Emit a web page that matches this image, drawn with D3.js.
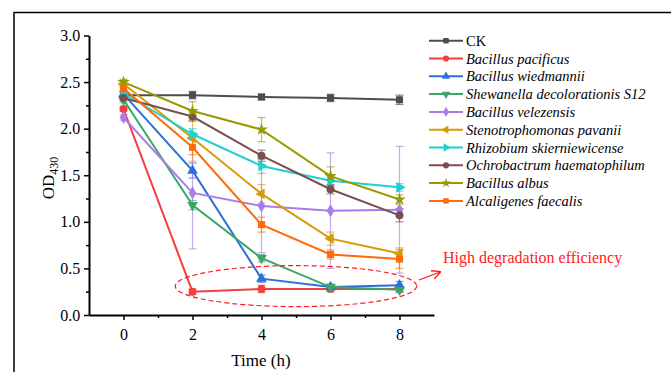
<!DOCTYPE html>
<html>
<head>
<meta charset="utf-8">
<script src="https://cdn.jsdelivr.net/npm/d3@7"></script>
<style>
  body { margin: 0; background: #fff; }
  svg { display: block; font-family: "Liberation Serif", "Times New Roman", serif; }
  svg text { font-family: "Liberation Serif", "Times New Roman", serif; }
</style>
</head>
<body>
<svg width="671" height="372"></svg>
<script>
var times = [0, 2, 4, 6, 8];
var names = ["CK", "Bacillus pacificus", "Bacillus wiedmannii", "Shewanella decolorationis S12",
  "Bacillus velezensis", "Stenotrophomonas pavanii", "Rhizobium skierniewicense",
  "Ochrobactrum haematophilum", "Bacillus albus", "Alcaligenes faecalis"];
var colors = ["#4d4d4d", "#f23f3f", "#2a6fdb", "#3aa864", "#a87de8", "#d59b0a",
  "#1fd0d0", "#7a4f4f", "#999900", "#ff6a0a"];
var shapes = ["square", "circle", "triangle", "triangleDown", "diamond", "triangleLeft",
  "triangleRight", "circle", "star", "square"];

var ck = [2.36, 2.36, 2.34, 2.33, 2.31];
var pacificus = [2.21, 0.25, 0.28, 0.28, 0.28];
var wiedmannii = [2.37, 1.55, 0.39, 0.30, 0.32];
var shewanella = [2.31, 1.18, 0.61, 0.30, 0.27];
var velezensis = [2.12, 1.31, 1.17, 1.12, 1.13];
var pavanii = [2.48, 1.90, 1.30, 0.82, 0.66];
var skierniewicense = [2.38, 1.94, 1.60, 1.44, 1.37];
var haematophilum = [2.33, 2.13, 1.71, 1.35, 1.07];
var albus = [2.50, 2.19, 1.99, 1.49, 1.24];
var faecalis = [2.43, 1.80, 0.97, 0.65, 0.60];

var errCk = [0.03, 0.04, 0.03, 0.04, 0.05];
var errPacificus = [0.02, 0.03, 0.04, 0.03, 0.03];
var errWiedmannii = [0.03, 0.08, 0.04, 0.03, 0.04];
var errShewanella = [0.03, 0.05, 0.04, 0.03, 0.03];
var errVelezensis = [0.03, 0.60, 0.50, 0.62, 0.68];
var errPavanii = [0.03, 0.25, 0.10, 0.07, 0.06];
var errSkierniewicense = [0.03, 0.06, 0.08, 0.05, 0.04];
var errHaematophilum = [0.03, 0.05, 0.06, 0.05, 0.07];
var errAlbus = [0.03, 0.10, 0.13, 0.10, 0.05];
var errFaecalis = [0.03, 0.08, 0.08, 0.05, 0.10];

var series = [ck, pacificus, wiedmannii, shewanella, velezensis, pavanii,
  skierniewicense, haematophilum, albus, faecalis];
var errors = [errCk, errPacificus, errWiedmannii, errShewanella, errVelezensis, errPavanii,
  errSkierniewicense, errHaematophilum, errAlbus, errFaecalis];

var xTicks = [0, 2, 4, 6, 8];
var yTicks = [0.0, 0.5, 1.0, 1.5, 2.0, 2.5, 3.0];

var svg = d3.select("svg");

// outer frame (top and left edges visible)
svg.append("path")
  .attr("d", "M14,372 L14,12.5 L671,12.5")
  .attr("fill", "none")
  .attr("stroke", "#000")
  .attr("stroke-width", 1.5);

var x = d3.scaleLinear().domain([-1, 9]).range([89, 434]);
var y = d3.scaleLinear().domain([0, 3]).range([315, 35.5]);

// axes
var xAxis = svg.append("g").attr("transform", "translate(0," + y(0) + ")");
xAxis.call(d3.axisBottom(x).tickValues(xTicks).tickFormat(d3.format("d")).tickSize(5).tickSizeOuter(0));
xAxis.append("g").call(d3.axisBottom(x).tickValues([1, 3, 5, 7]).tickFormat("").tickSize(3).tickSizeOuter(0))
  .select(".domain").remove();

var yAxis = svg.append("g").attr("transform", "translate(" + x(-1) + ",0)");
yAxis.call(d3.axisLeft(y).tickValues(yTicks).tickFormat(d3.format(".1f")).tickSize(5).tickSizeOuter(0));
yAxis.append("g").call(d3.axisLeft(y).tickValues(d3.range(0.25, 3, 0.5)).tickFormat("").tickSize(3).tickSizeOuter(0))
  .select(".domain").remove();

xAxis.attr("font-family", "Liberation Serif").attr("font-size", 16);
yAxis.attr("font-family", "Liberation Serif").attr("font-size", 16);
svg.selectAll(".domain").attr("stroke-width", 2).attr("stroke", "#000");
svg.selectAll(".tick line").attr("stroke-width", 1.5).attr("stroke", "#000");
svg.selectAll(".tick text").attr("fill", "#000");
xAxis.selectAll(".tick text").attr("dy", "1.05em");
yAxis.selectAll(".tick text").attr("dx", "-0.05em");

// axis titles
svg.append("text")
  .attr("x", 261).attr("y", 366)
  .attr("text-anchor", "middle")
  .attr("font-size", 17)
  .text("Time (h)");

var yt = svg.append("text")
  .attr("transform", "translate(54,178) rotate(-90)")
  .attr("text-anchor", "middle")
  .attr("font-size", 17);
yt.append("tspan").text("OD");
yt.append("tspan").attr("font-size", 12).attr("dy", 4).text("430");

// symbol helpers
function symbolPath(shape, size) {
  var map = {
    square: d3.symbolSquare, circle: d3.symbolCircle, triangle: d3.symbolTriangle,
    triangleDown: d3.symbolTriangle, triangleLeft: d3.symbolTriangle,
    triangleRight: d3.symbolTriangle, diamond: d3.symbolDiamond, star: d3.symbolStar
  };
  return d3.symbol().type(map[shape]).size(size)();
}
function symbolRotate(shape) {
  if (shape === "triangleDown") return 180;
  if (shape === "triangleLeft") return -90;
  if (shape === "triangleRight") return 90;
  return 0;
}

// error bars
series.forEach(function (vals, i) {
  var g = svg.append("g").attr("stroke", colors[i]).attr("stroke-opacity", 0.65).attr("stroke-width", 1.2);
  vals.forEach(function (v, j) {
    var e = errors[i][j];
    var cx = x(times[j]);
    g.append("line").attr("x1", cx).attr("x2", cx).attr("y1", y(v - e)).attr("y2", y(v + e));
    g.append("line").attr("x1", cx - 4).attr("x2", cx + 4).attr("y1", y(v - e)).attr("y2", y(v - e));
    g.append("line").attr("x1", cx - 4).attr("x2", cx + 4).attr("y1", y(v + e)).attr("y2", y(v + e));
  });
});

// lines and markers
var line = d3.line()
  .x(function (d, j) { return x(times[j]); })
  .y(function (d) { return y(d); });

series.forEach(function (vals, i) {
  svg.append("path")
    .datum(vals)
    .attr("d", line)
    .attr("fill", "none")
    .attr("stroke", colors[i])
    .attr("stroke-width", 2);
  svg.append("g").selectAll("path")
    .data(vals)
    .enter().append("path")
    .attr("d", symbolPath(shapes[i], 50))
    .attr("transform", function (d, j) {
      return "translate(" + x(times[j]) + "," + y(d) + ") rotate(" + symbolRotate(shapes[i]) + ")";
    })
    .attr("fill", colors[i]);
});

// legend
var legend = svg.append("g");
names.forEach(function (n, i) {
  var ly = 40.7 + i * 17.8;
  legend.append("line")
    .attr("x1", 429).attr("x2", 463).attr("y1", ly).attr("y2", ly)
    .attr("stroke", colors[i]).attr("stroke-width", 2);
  legend.append("path")
    .attr("d", symbolPath(shapes[i], 30))
    .attr("transform", "translate(446," + ly + ") rotate(" + symbolRotate(shapes[i]) + ")")
    .attr("fill", colors[i]);
  legend.append("text")
    .attr("x", 466).attr("y", ly + 5)
    .attr("font-size", 14.5)
    .attr("font-style", i === 0 ? "normal" : "italic")
    .text(n);
});

// annotation: dashed ellipse, arrow, label
svg.append("ellipse")
  .attr("cx", x(5)).attr("cy", y(0.31))
  .attr("rx", x(3.5) - x(0)).attr("ry", y(0) - y(0.22))
  .attr("fill", "none")
  .attr("stroke", "#ff1a1a")
  .attr("stroke-width", 1.2)
  .attr("stroke-dasharray", "5,3");

svg.append("defs").append("marker")
  .attr("id", "arr")
  .attr("viewBox", "0 0 10 10")
  .attr("refX", 9).attr("refY", 5)
  .attr("markerWidth", 7).attr("markerHeight", 7)
  .attr("orient", "auto")
  .append("path")
  .attr("d", "M0,0 L10,5 L0,10")
  .attr("fill", "none")
  .attr("stroke", "#ff1a1a")
  .attr("stroke-width", 1.5);

svg.append("line")
  .attr("x1", 419).attr("y1", 280).attr("x2", 440).attr("y2", 272)
  .attr("stroke", "#ff1a1a").attr("stroke-width", 1.3)
  .attr("marker-end", "url(#arr)");

svg.append("text")
  .attr("x", 443).attr("y", 263)
  .attr("font-size", 16)
  .attr("fill", "#ff1a1a")
  .text("High degradation efficiency");
</script>
</body>
</html>
